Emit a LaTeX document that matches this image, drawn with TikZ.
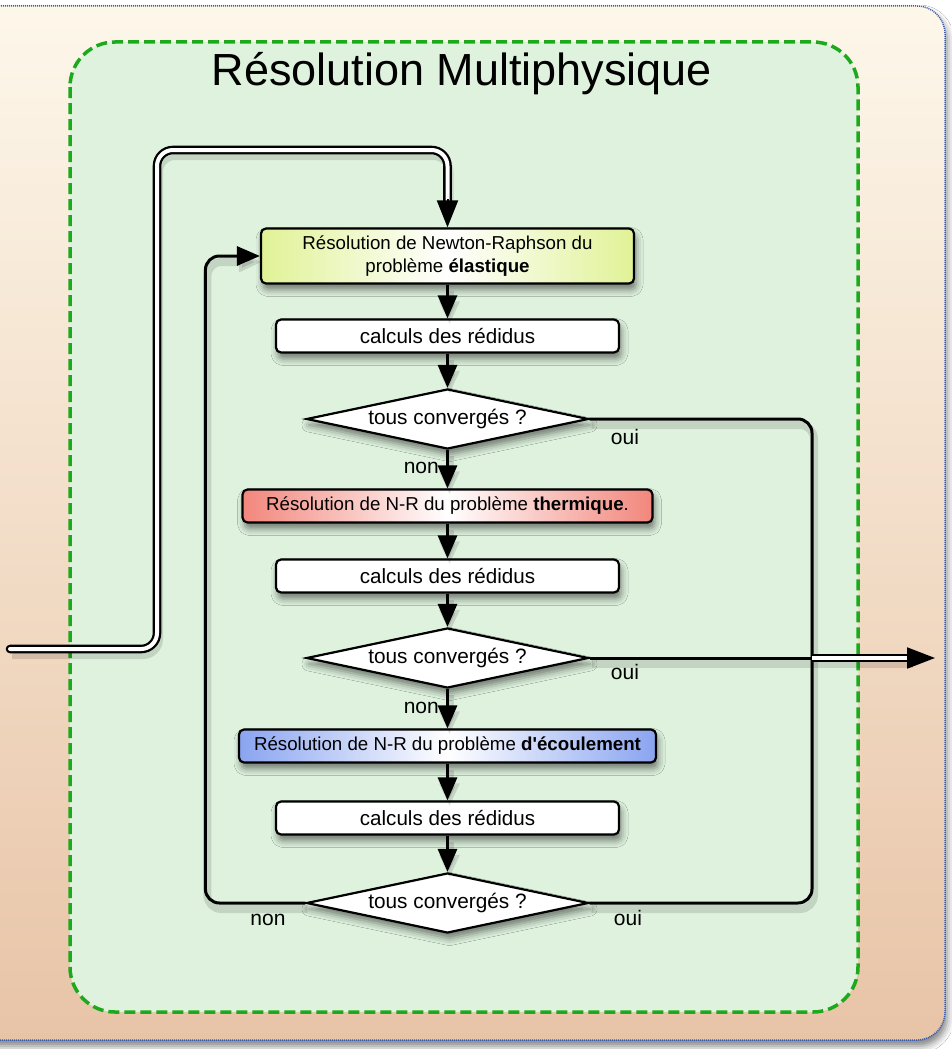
\documentclass[tikz,border=0pt]{standalone}
\usepackage{fontspec}
\setmainfont{Liberation Sans}
\usetikzlibrary{arrows.meta,shapes.geometric,shadows.blur,calc}
\definecolor{bgtop}{HTML}{FDF7EA}
\definecolor{bgbot}{HTML}{E8C4A7}
\definecolor{bgborder}{HTML}{3A5BA8}
\definecolor{zone}{HTML}{DEF2DE}
\definecolor{zoneline}{HTML}{1CAA1C}
\definecolor{ylw}{HTML}{E0F296}
\definecolor{rd}{HTML}{F2867C}
\definecolor{bl}{HTML}{8AA4F0}
\begin{document}
\begin{tikzpicture}[x=1pt,y=-1pt,
 shadowed/.style={blur shadow={shadow xshift=2pt,shadow yshift=-6pt,shadow blur radius=7pt,shadow opacity=50}},
 lineshadow/.style={preaction={draw=black, opacity=0.12, line width=8pt, transform canvas={xshift=2pt,yshift=-6pt}}},
 proc/.style={draw=black, line width=2.2pt, rounded corners=5pt, minimum height=33pt, inner sep=0pt,
   font=\fontsize{18.7}{22.5}\selectfont, align=center, shadowed},
 calcbox/.style={proc, fill=white, minimum width=343pt, font=\fontsize{20.6}{24}\selectfont},
 test/.style={diamond, draw=black, line width=2.2pt, fill=white, aspect=4.7, minimum width=282pt,
   minimum height=60pt, inner sep=0pt, font=\fontsize{20.8}{24}\selectfont, shadowed},
 conn/.style={line width=3pt, -{Triangle[length=23pt,width=19pt,fill=black]}},
 wire/.style={line width=3pt},
 dbl/.style={draw=black, double=white, double distance=4pt, line width=2.3pt},
 lbl/.style={font=\fontsize{21}{24}\selectfont, inner sep=0pt},
]
\useasboundingbox (0,0) rectangle (951,1049);
\fill[white] (0,0) rectangle (951,1049);
% outer background
\draw[bgborder, line width=1.5pt, dash pattern=on 1pt off 1pt, top color=bgtop, bottom color=bgbot,
  rounded corners=28pt, shadowed] (-40,6) rectangle (945,1040);
% green zone
\draw[zoneline, line width=3.5pt, dash pattern=on 11pt off 5pt, fill=zone, rounded corners=45pt]
  (70,42) rectangle (858,1012);
\node[font=\fontsize{45}{54}\selectfont, anchor=base, inner sep=0pt] (title) at (462,85) {Résolution Multiphysique};

% connector shadows first (under everything)
\coordinate (colx) at (812,658);
\coordinate (out) at (935,658);
\coordinate (in) at (10,649);
\coordinate (bend) at (157,150);

% nodes
\node[proc, left color=ylw, right color=ylw, middle color=white, minimum width=373pt, minimum height=55pt]
  (n1) at (447.5,256) {Résolution de Newton-Raphson du\\problème \textbf{élastique}};
\node[calcbox] (c1) at (447.5,336) {calculs des rédidus};
\node[test] (d1) at (447.5,419) {tous convergés ?};
\node[proc, left color=rd, right color=rd, middle color=white, minimum width=410pt]
  (n2) at (447.5,506) {Résolution de N-R du problème \textbf{thermique}.};
\node[calcbox] (c2) at (447.5,576) {calculs des rédidus};
\node[test] (d2) at (447.5,658) {tous convergés ?};
\node[proc, left color=bl, right color=bl, middle color=white, minimum width=417pt]
  (n3) at (447.5,746) {Résolution de N-R du problème \textbf{d\textquotesingle écoulement}};
\node[calcbox] (c3) at (447.5,818) {calculs des rédidus};
\node[test] (d3) at (447.5,903) {tous convergés ?};

% vertical flow
\draw[conn, lineshadow] (n1) -- (c1);
\draw[conn, lineshadow] (c1) -- (d1);
\draw[conn, lineshadow] (d1) -- (n2);
\draw[conn, lineshadow] (n2) -- (c2);
\draw[conn, lineshadow] (c2) -- (d2);
\draw[conn, lineshadow] (d2) -- (n3);
\draw[conn, lineshadow] (n3) -- (c3);
\draw[conn, lineshadow] (c3) -- (d3);

% loop back
\draw[conn, lineshadow, rounded corners=14pt] (d3.west) -- ++(-100,0) |- (n1.west);

% right column
\draw[wire, lineshadow, rounded corners=14pt] (d1.east) -| (colx) |- (d3.east);
\draw[wire, lineshadow] (d2.east) -- (colx);
\draw[dbl, lineshadow] (colx) -- ($(out)+(-24,0)$);
\draw[line width=2pt, -{Triangle[length=28pt,width=21pt,fill=black]}] ($(out)+(-28,0)$) -- (out);

% entry
\draw[dbl, lineshadow, line cap=round, rounded corners=16pt] (in) -| (bend) -| ($(n1.north)+(0,-24)$);
\draw[line width=2pt, -{Triangle[length=27pt,width=21pt,fill=black]}] ($(n1.north)+(0,-28)$) -- (n1.north);

% labels
\node[lbl, anchor=east] (l1n) at (439,468) {non};
\node[lbl] (l1o) at (625,437) {oui};
\node[lbl] (l2o) at (625,672) {oui};
\node[lbl, anchor=east] (l2n) at (439,708) {non};
\node[lbl] (l3n) at (268,920) {non};
\node[lbl] (l3o) at (628,918) {oui};
\end{tikzpicture}
\end{document}
